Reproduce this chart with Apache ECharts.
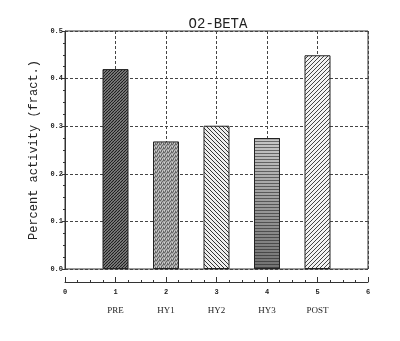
<!DOCTYPE html>
<html><head><meta charset="utf-8">
<script src="https://cdn.jsdelivr.net/npm/echarts@6/dist/echarts.min.js"></script>
<style>html,body{margin:0;padding:0;background:#fff}#c{width:400px;height:341px}</style>
</head><body><div id="c"></div>
<script>
const title = 'O2-BETA';
const yTitle = 'Percent activity (fract.)';
const categories = ['PRE', 'HY1', 'HY2', 'HY3', 'POST'];
const positions = [1, 2, 3, 4, 5];
const values = [0.42, 0.268, 0.301, 0.275, 0.449];

function hatch(s, dir, lineColor, bg, lw) {
  const c = document.createElement('canvas');
  c.width = s; c.height = s;
  const g = c.getContext('2d');
  g.fillStyle = bg; g.fillRect(0, 0, s, s);
  g.strokeStyle = lineColor; g.lineWidth = lw;
  g.beginPath();
  for (let k = -1; k <= 1; k++) {
    if (dir === '/') { g.moveTo(k * s, s); g.lineTo(k * s + s, 0); }
    else { g.moveTo(k * s, 0); g.lineTo(k * s + s, s); }
  }
  g.stroke();
  return { image: c, repeat: 'repeat' };
}
function stipple() {
  const c = document.createElement('canvas');
  c.width = 4; c.height = 4;
  const g = c.getContext('2d');
  g.fillStyle = '#a8a8a8'; g.fillRect(0, 0, 4, 4);
  const dark = [[0,0],[2,1],[1,2],[3,3],[3,0],[1,3]];
  g.fillStyle = '#666';
  dark.forEach(p => g.fillRect(p[0], p[1], 1, 1));
  g.fillStyle = '#d0d0d0';
  [[2,3],[0,2]].forEach(p => g.fillRect(p[0], p[1], 1, 1));
  return { image: c, repeat: 'repeat' };
}

const styles = [
  { color: hatch(3, '/', '#1a1a1a', '#909090', 1.1) },
  { color: stipple() },
  { color: hatch(4, '\\', '#333', '#eeeeee', 1) },
  { color: { type: 'linear', x: 0, y: 1, x2: 1, y2: 0, colorStops: [{ offset: 0, color: '#707070' }, { offset: 1, color: '#c8c8c8' }] },
    decal: { symbol: 'rect', symbolSize: 1, dashArrayX: [1, 0], dashArrayY: [1, 2], rotation: 0, color: 'rgba(30,30,30,0.55)' } },
  { color: hatch(4, '/', '#444', '#f2f2f2', 1) }
];

const chart = echarts.init(document.getElementById('c'), null, { renderer: 'canvas' });
const tickFont = { fontFamily: 'Liberation Mono', fontSize: 7, fontWeight: 'bold', color: '#222' };
chart.setOption({
  backgroundColor: '#fff',
  animation: false,
  title: {
    text: title, left: 213, top: 12, textAlign: 'center',
    textStyle: { fontFamily: 'Liberation Mono', fontSize: 14, fontWeight: 'normal', color: '#222' }
  },
  grid: { left: 65, right: 32, top: 31, bottom: 72, show: true, borderColor: '#333', borderWidth: 1, backgroundColor: 'transparent' },
  xAxis: [
    {
      type: 'value', min: 0, max: 6, interval: 1, position: 'bottom', offset: 13,
      axisLine: { show: true, onZero: false, lineStyle: { color: '#333', width: 1 } },
      axisTick: { show: true, inside: true, length: 5, lineStyle: { color: '#333' } },
      minorTick: { show: true, splitNumber: 4, length: 2, lineStyle: { color: '#333' } },
      axisLabel: Object.assign({ margin: 7 }, tickFont),
      splitLine: { show: true, lineStyle: { color: '#444', type: [3, 2], width: 1 } }
    },
    {
      type: 'value', min: 0, max: 6, interval: 1, position: 'bottom', offset: 0,
      axisLine: { show: false, onZero: false }, axisTick: { show: false }, splitLine: { show: false },
      axisLabel: {
        margin: 37, fontFamily: 'Liberation Serif', fontSize: 9, color: '#222',
        formatter: v => { const i = positions.indexOf(v); return i >= 0 ? categories[i] : ''; }
      }
    }
  ],
  yAxis: {
    type: 'value', min: 0, max: 0.5, interval: 0.1,
    name: yTitle, nameLocation: 'middle', nameGap: 19, nameRotate: 90,
    nameTextStyle: { fontFamily: 'Liberation Mono', fontSize: 12, color: '#222' },
    axisLine: { show: true, lineStyle: { color: '#333' } },
    axisTick: { show: true, length: 3, lineStyle: { color: '#333' } },
    minorTick: { show: true, splitNumber: 4, length: 2, lineStyle: { color: '#333' } },
    axisLabel: Object.assign({ margin: 2, formatter: v => v.toFixed(1) }, tickFont),
    splitLine: { show: true, lineStyle: { color: '#444', type: [3, 2], width: 1 } }
  },
  series: [{
    type: 'bar', xAxisIndex: 0, barWidth: 26,
    itemStyle: { borderColor: '#222', borderWidth: 1 },
    data: positions.map((p, i) => ({ value: [p, values[i]], itemStyle: styles[i] })),
    z: 3
  }]
});
</script></body></html>
